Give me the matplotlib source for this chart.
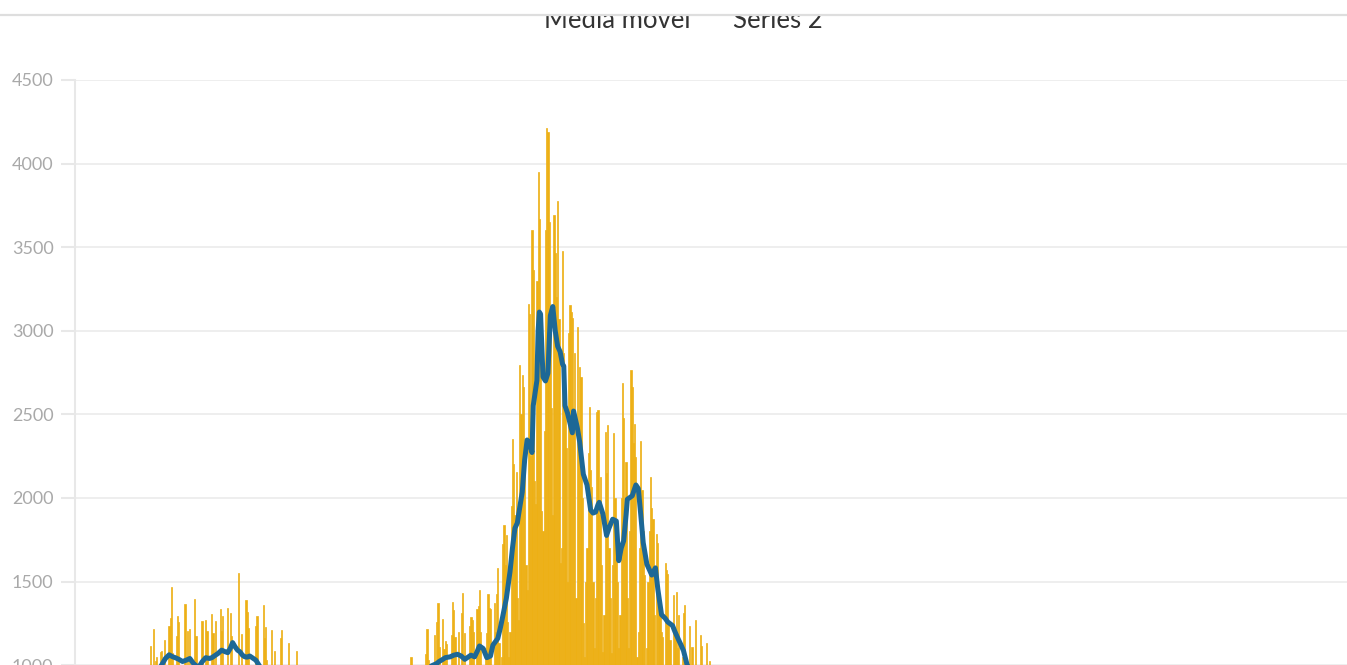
import numpy as np
import matplotlib
matplotlib.use("Agg")
from matplotlib import pyplot as plt
from matplotlib.patches import Rectangle
from matplotlib.lines import Line2D

# obitos diarios, uma linha por semana (dia 0 = primeiro dia acima de 1000)
primeira_onda = [
    750, 620, 1115, 940, 1217, 960, 1025,
    1050, 680, 720, 1080, 1086, 970, 1151,
    900, 620, 700, 1235, 1283, 1468, 1073,
    880, 600, 1175, 1295, 1259, 980, 890,
    650, 720, 1367, 980, 1205, 960, 1217,
    870, 600, 950, 1396, 1175, 990, 900,
    560, 690, 1265, 980, 970, 1271, 1205,
    880, 610, 940, 1307, 1193, 990, 1265,
    860, 640, 980, 1337, 1205, 1295, 960,
    700, 620, 1345, 990, 1313, 1177, 980,
    720, 640, 960, 990, 1552, 970, 1187,
    880, 600, 940, 1390, 1318, 1225, 900,
    710, 580, 960, 990, 1235, 1295, 930,
    700, 560, 920, 1361, 1165, 1229, 1030,
    690, 540, 930, 1211, 980, 1086, 880,
    650, 520, 910, 1165, 1211, 960, 830,
    600, 480, 870, 1133, 960, 940, 790,
    560, 440, 1086, 950, 900, 880, 720,
]

intervalo = [
    480, 400, 820, 880, 860, 790, 700,
    450, 380, 800, 850, 830, 760, 650,
    420, 360, 760, 830, 800, 720, 620,
    400, 340, 730, 780, 760, 700, 600,
    380, 320, 700, 750, 730, 680, 560,
    350, 300, 650, 700, 680, 620, 520,
    320, 280, 600, 640, 630, 580, 480,
    300, 260, 560, 610, 590, 540, 450,
    310, 270, 580, 640, 620, 560, 470,
    350, 300, 650, 700, 690, 620, 520,
    400, 340, 720, 780, 760, 700, 580,
    450, 380, 800, 860, 840, 760, 640,
]

segunda_onda = [
    500, 420, 900, 950, 940, 1048, 700,
    520, 440, 930, 980, 960, 900, 720,
    540, 460, 960, 1066, 1217, 1032, 780,
    560, 480, 980, 1181, 990, 1259, 1372,
    1109, 600, 520, 1277, 1099, 1145, 1127,
    820, 620, 560, 1181, 1378, 1331, 1169,
    840, 640, 1199, 990, 1313, 1433, 980,
    1193, 680, 600, 990, 1235, 1289, 1271,
    1199, 720, 640, 1337, 1355, 1450, 1199,
    900, 760, 700, 1100, 1193, 1427, 1342,
    1337, 880, 780, 1373, 1200, 1425, 1581,
    1134, 950, 1050, 1722, 1841, 1600, 1779,
    1259, 1050, 1200, 1955, 2350, 2205, 1900,
    2153, 1400, 1269, 2798, 2500, 2736, 2663,
    2257, 1600, 1450, 3158, 3100, 2250, 3603,
    3366, 2100, 1966, 3300, 3952, 3671, 3000,
    1924, 1800, 2400, 3600, 4212, 4191, 3651,
    3000, 2538, 1900, 3692, 3463, 3200, 3775,
    3068, 1612, 1700, 3480, 2867, 2600, 2300,
    1500, 2987, 3155, 3113, 3076, 2500, 2867,
    1400, 3023, 2400, 2784, 2724, 2000, 1253,
    1050, 1500, 1700, 2270, 2545, 2168, 2066,
    1500, 1100, 1400, 2515, 2527, 1900, 2126,
    1600, 1080, 1300, 2395, 2150, 2437, 1700,
    1400, 1070, 1600, 2389, 2000, 1800, 1500,
    1100, 1300, 2000, 2688, 2479, 1900, 2216,
    1400, 1100, 1800, 2766, 2664, 2330, 2443,
    2245, 1050, 1200, 1700, 2341, 2050, 1800,
    1540, 1000, 1100, 1500, 1800, 2126, 1940,
    1875, 1300, 1000, 1785, 1731, 1400, 1350,
    1200, 1169, 900, 1612, 1570, 1546, 1250,
    1151, 950, 800, 1420, 1200, 1438, 1100,
    1300, 900, 750, 1050, 1313, 1361, 1000,
    950, 700, 1235, 980, 1109, 960, 880,
    1271, 600, 980, 950, 1181, 1115, 900,
    800, 550, 1133, 950, 1026, 850, 700,
    500,
]

# media movel (dia, valor)
media_dias = [
    0, 5, 10, 14, 17, 20, 22, 25, 28, 31, 34, 37, 41, 44, 47, 50, 52, 55,
    57, 60, 63, 65, 67, 69, 71, 73, 75, 77, 79, 81, 83, 85, 88, 91, 95,
    100, 105, 115, 125, 140, 155, 170, 185, 200, 210, 220, 230, 236, 238,
    241, 243, 247, 250, 253, 256, 259, 261, 264, 267, 269, 271, 274, 277,
    280, 282, 286, 288, 290, 293, 296, 298, 300, 302, 303, 306, 308, 310,
    312, 314, 315, 317, 318, 319, 320, 321, 323, 325, 327, 329, 331, 333,
    335, 337, 339, 340, 341, 343, 345, 347, 348, 351, 353, 356, 359, 362,
    364, 366, 368, 369, 372, 375, 377, 380, 383, 385, 387, 389, 391, 392,
    396, 399, 401, 403, 405, 408, 412, 415, 417, 420, 423, 425, 429, 431,
    434, 436, 438, 441, 445, 450, 460,
]
media_valores = [
    880, 950, 990, 1040, 1062, 1050, 1045, 1035, 1022, 1030, 1040, 1010,
    985, 1020, 1045, 1040, 1045, 1060, 1070, 1090, 1080, 1075, 1100, 1135,
    1110, 1090, 1080, 1060, 1050, 1048, 1055, 1045, 1030, 995, 975,
    950, 900, 830, 770, 680, 620, 560, 580, 700, 850, 930, 990, 1010, 1022,
    1035, 1045, 1050, 1060, 1065, 1055, 1035, 1045, 1060, 1050, 1080, 1115,
    1100, 1045, 1055, 1120, 1160, 1220, 1290, 1400, 1560, 1700, 1819, 1851,
    1900, 2035, 2229, 2347, 2330, 2272, 2552, 2650, 2703, 3000, 3112, 3100,
    2724, 2700, 2746, 3091, 3145, 3000, 2907, 2875, 2800, 2789, 2552, 2509,
    2450, 2390, 2520, 2423, 2336, 2142, 2078, 1927, 1910, 1916, 1960, 1974,
    1905, 1776, 1820, 1873, 1862, 1625, 1700, 1744, 1900, 1992, 2013, 2078,
    2056, 1900, 1733, 1604, 1539, 1582, 1453, 1302, 1280, 1259, 1237, 1200,
    1151, 1120, 1086, 1000, 960, 920, 870,
]

rotulos_legenda = ["Media movel", "Series 2"]
valores_y = list(range(0, 5000, 500))

plt.rcParams['font.family'] = ['Lato', 'DejaVu Sans']

W, H = 1347, 665
fig = plt.figure(figsize=(W / 100, H / 100), dpi=100)
ax = fig.add_axes([75 / W, -0.2517, 0.9616, 1.1314])

obitos = primeira_onda + intervalo + segunda_onda
dias = np.arange(len(obitos))

ax.bar(dias, obitos, width=1.0, color='#edb015', edgecolor='#edb015',
       linewidth=0.5, zorder=2)
ax.plot(media_dias, media_valores, color='#1d6896', linewidth=3.6,
        solid_joinstyle='round', solid_capstyle='round', zorder=3)

ax.set_xlim(-60, 1000)
ax.set_ylim(0, 4500)
ax.set_yticks(valores_y)
ax.set_xticks([])
ax.yaxis.grid(True, color='#ededed', linewidth=1.3)
ax.set_axisbelow(True)
for lado in ['top', 'right', 'bottom']:
    ax.spines[lado].set_visible(False)
ax.spines['left'].set_color('#e8e8e8')
ax.spines['left'].set_linewidth(1.5)
ax.tick_params(axis='y', length=10, width=1.5, color='#e8e8e8',
               labelcolor='#a9a9a9', labelsize=13, pad=5.5)

# legenda cortada no topo
base = 1 - 28.5 / H
fig.text(617 / W, base, rotulos_legenda[0], ha='center', va='baseline',
         fontsize=18.5, color='#333333')
fig.text(778 / W, base, rotulos_legenda[1], ha='center', va='baseline',
         fontsize=18.5, color='#333333')
fig.add_artist(Rectangle((0, 1 - 15 / H), 1, 15 / H, transform=fig.transFigure,
                         facecolor='white', edgecolor='none', zorder=10))
fig.add_artist(Line2D([0, 1], [1 - 15 / H] * 2, transform=fig.transFigure,
                      color='#dedede', linewidth=1.6, zorder=11))

fig.savefig("out.png", dpi=100, facecolor='white')
